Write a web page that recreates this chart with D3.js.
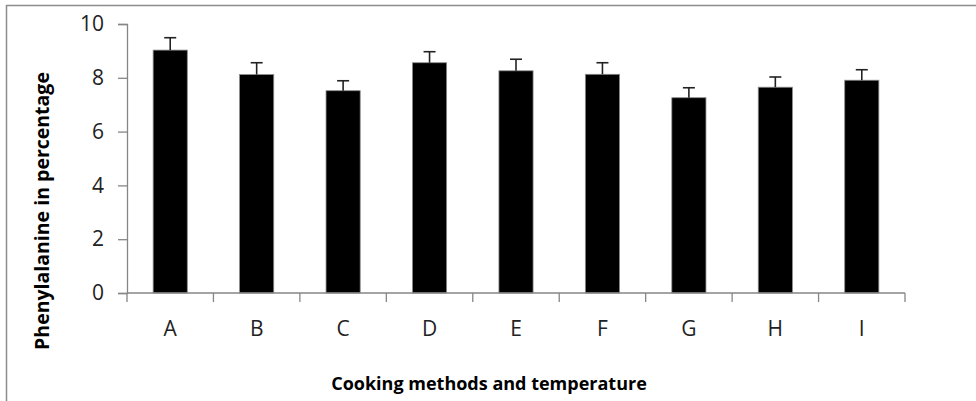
<!DOCTYPE html>
<html>
<head>
<meta charset="utf-8">
<script src="https://cdn.jsdelivr.net/npm/d3@7"></script>
<style>
  html, body { margin: 0; padding: 0; background: #fff; }
  svg { display: block; }
</style>
</head>
<body>
<svg id="chart" width="976" height="401"></svg>
<script>
const categories = ["A", "B", "C", "D", "E", "F", "G", "H", "I"];
const values = [9.03, 8.12, 7.52, 8.56, 8.26, 8.13, 7.26, 7.65, 7.91];
const errors = [0.46, 0.44, 0.37, 0.41, 0.43, 0.43, 0.37, 0.38, 0.39];
const yTicks = [0, 2, 4, 6, 8, 10];
const xTitle = "Cooking methods and temperature";
const yTitle = "Phenylalanine in percentage";

(function () {
const svg = d3.select("#chart");
const font = "'Open Sans', sans-serif";

// outer chart frame (top and left edges visible)
svg.append("line").attr("x1", 6).attr("x2", 976).attr("y1", 5.5).attr("y2", 5.5)
  .attr("stroke", "#8c8c8c").attr("stroke-width", 1.5);
svg.append("line").attr("x1", 6.5).attr("x2", 6.5).attr("y1", 5).attr("y2", 401)
  .attr("stroke", "#8c8c8c").attr("stroke-width", 1.5);

const pLeft = 127, pRight = 905, pTop = 24, pBottom = 293;

const x = d3.scaleBand().domain(categories).range([pLeft, pRight]).paddingInner(0.605).paddingOuter(0.3025);
const y = d3.scaleLinear().domain([0, 10]).range([pBottom, pTop]);

// bars
svg.append("g").selectAll("rect").data(categories).join("rect")
  .attr("x", d => x(d))
  .attr("y", (d, i) => y(values[i]))
  .attr("width", x.bandwidth())
  .attr("height", (d, i) => y(0) - y(values[i]))
  .attr("fill", "#000")
  .attr("stroke", "#8a8a8a")
  .attr("stroke-width", 0.8);

// error bars
const eg = svg.append("g").attr("stroke", "#222").attr("stroke-width", 1.6);
categories.forEach((c, i) => {
  const cx = x(c) + x.bandwidth() / 2;
  eg.append("line").attr("x1", cx).attr("x2", cx)
    .attr("y1", y(values[i])).attr("y2", y(values[i] + errors[i]));
  eg.append("line").attr("x1", cx - 6).attr("x2", cx + 6)
    .attr("y1", y(values[i] + errors[i])).attr("y2", y(values[i] + errors[i]));
});

// y axis
const yAxis = svg.append("g").attr("transform", `translate(${pLeft},0)`)
  .call(d3.axisLeft(y).tickValues(yTicks).tickSize(9).tickPadding(14).tickFormat(d3.format("d")));
yAxis.select(".domain").attr("stroke", "#868686").attr("stroke-width", 1.3);
yAxis.selectAll(".tick line").attr("stroke", "#868686").attr("stroke-width", 1.3);
yAxis.selectAll("text").attr("font-family", font).attr("font-size", 21).attr("fill", "#222");

// x axis with boundary ticks
const xAxisG = svg.append("g").attr("transform", `translate(0,${pBottom})`);
xAxisG.append("line").attr("x1", pLeft).attr("x2", pRight).attr("y1", 0).attr("y2", 0)
  .attr("stroke", "#868686").attr("stroke-width", 1.3);
const boundaries = d3.range(categories.length + 1).map(i => pLeft + i * (pRight - pLeft) / categories.length);
xAxisG.selectAll("line.b").data(boundaries).join("line").attr("class", "b")
  .attr("x1", d => d).attr("x2", d => d).attr("y1", 0).attr("y2", 9)
  .attr("stroke", "#868686").attr("stroke-width", 1.3);
xAxisG.selectAll("text").data(categories).join("text")
  .attr("x", d => x(d) + x.bandwidth() / 2)
  .attr("y", 43)
  .attr("text-anchor", "middle")
  .attr("font-family", font).attr("font-size", 21).attr("fill", "#222")
  .text(d => d);

// titles
svg.append("text").attr("x", 489).attr("y", 390).attr("text-anchor", "middle")
  .attr("font-family", font).attr("font-weight", "bold").attr("font-size", 18)
  .attr("fill", "#000").text(xTitle);
svg.append("text").attr("transform", "translate(49,211) rotate(-90)").attr("text-anchor", "middle")
  .attr("font-family", font).attr("font-weight", "bold").attr("font-size", 19.5)
  .attr("fill", "#000").text(yTitle);
})();
</script>
</body>
</html>
